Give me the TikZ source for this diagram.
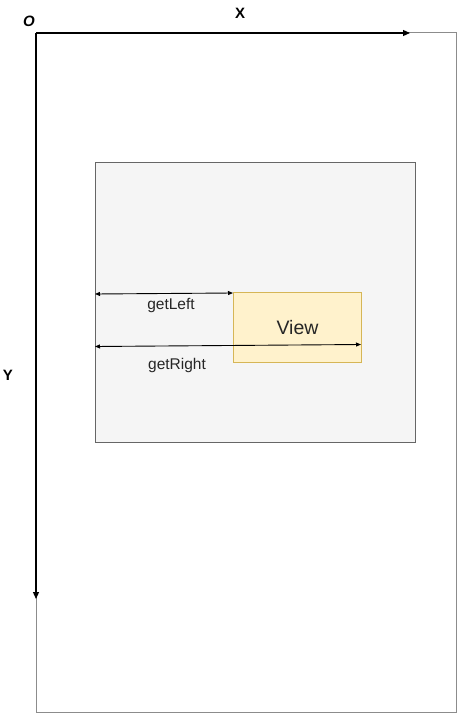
\documentclass[tikz,border=0pt]{standalone}
\usepackage{fontspec}
\setmainfont{Liberation Sans}
\usetikzlibrary{arrows.meta}
\definecolor{outerline}{HTML}{8C8C8C}
\definecolor{boxfill}{HTML}{F5F5F5}
\definecolor{boxline}{HTML}{666666}
\definecolor{viewfill}{HTML}{FFF2CC}
\definecolor{viewline}{HTML}{D6B656}
\tikzset{
  axis/.style={draw=black, line width=1.2pt, -{Triangle[length=7pt,width=6pt]}},
  measure/.style={draw=black, line width=0.9pt, {Triangle[length=5pt,width=4pt]}-{Triangle[length=5pt,width=4pt]}},
  lbl/.style={font=\fontsize{15.5}{18}\selectfont, text=black!85, inner sep=0pt},
  axlbl/.style={font=\fontsize{15}{17}\selectfont\bfseries, inner sep=0pt},
}
\begin{document}
\begin{tikzpicture}[x=1pt,y=-1pt]
\useasboundingbox (0,0) rectangle (457,714);
% outer screen
\draw[outerline, line width=1pt] (36,33) rectangle (456,712);
% parent box
\node[draw=boxline, fill=boxfill, line width=1pt, minimum width=320pt, minimum height=280pt, inner sep=0pt, anchor=north west] (parent) at (95,162) {};
% view
\node[draw=viewline, fill=viewfill, line width=1pt, minimum width=128pt, minimum height=70pt, inner sep=0pt, anchor=north west, font=\fontsize{19.5}{22}\selectfont, text=black!85] (view) at (233,292) {View};
% axes
\coordinate (origin) at (36,33);
\coordinate (xend) at (410,33);
\coordinate (yend) at (36,599);
\draw[axis] (origin) -- (xend);
\draw[axis] (origin) -- (yend);
\node[axlbl, font=\fontsize{15}{17}\selectfont\bfseries\itshape] (o) at (29,21) {O};
\node[axlbl] (x) at (240,13) {X};
\node[axlbl] (y) at (8,375) {Y};
% measures
\coordinate (l1) at (95,294);
\coordinate (l2) at (233,293);
\draw[measure] (l1) -- (l2);
\node[lbl] (gl) at (171,305) {getLeft};
\coordinate (r1) at (95,346.5);
\coordinate (r2) at (361,344.5);
\draw[measure] (r1) -- (r2);
\node[lbl] (gr) at (177,365) {getRight};
\end{tikzpicture}
\end{document}
